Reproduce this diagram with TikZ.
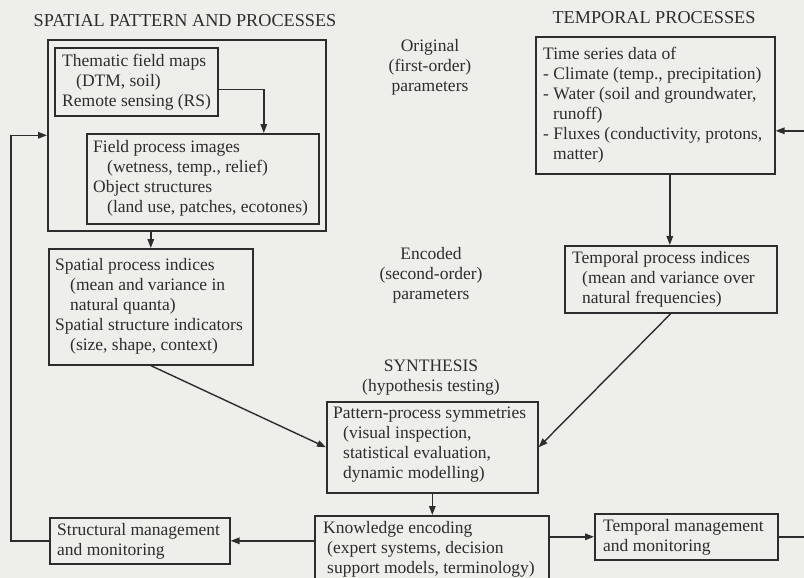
\documentclass[tikz,border=0pt]{standalone}
\usepackage{fontspec}
\setmainfont{Liberation Serif}
\usetikzlibrary{arrows.meta}
\definecolor{bg}{RGB}{238,238,235}
\definecolor{ink}{RGB}{45,45,45}
\begin{document}
\begin{tikzpicture}[x=1pt,y=-1pt,
  box/.style={draw=ink, line width=1.6pt, inner sep=0pt, anchor=north west},
  txt/.style={text=ink, inner sep=0pt, anchor=north west, align=left, font=\fontsize{17.5}{20}\selectfont},
  ctxt/.style={text=ink, inner sep=0pt, align=center, font=\fontsize{17.5}{20}\selectfont},
  ttl/.style={text=ink, inner sep=0pt, align=center, font=\fontsize{18.2}{20}\selectfont},
  arr/.style={draw=ink, line width=1.4pt, -{Triangle[length=9pt,width=6.5pt]}}]
\useasboundingbox (0,0) rectangle (804,578);
\clip (0,0) rectangle (804,578);
\fill[bg] (0,0) rectangle (804,578);

% titles and labels
\node[ttl] (tspat) at (185,21) {SPATIAL PATTERN AND PROCESSES};
\node[ttl] (ttemp) at (654,18) {TEMPORAL PROCESSES};
\node[ctxt] (torig) at (430,67) {Original\\(first-order)\\parameters};
\node[ctxt] (tenc) at (431,275) {Encoded\\(second-order)\\parameters};
\node[ctxt] (tsyn) at (431,378) {SYNTHESIS\\(hypothesis testing)};

% boxes
\node[box, minimum width=278pt, minimum height=191pt] (outer) at (47,39) {};
\node[box, minimum width=163pt, minimum height=68pt] (b1) at (54,47) {};
\node[box, minimum width=232pt, minimum height=90pt] (b2) at (86,133) {};
\node[box, minimum width=204pt, minimum height=116pt] (si) at (48,248) {};
\node[box, minimum width=239pt, minimum height=137pt] (tb) at (535,36) {};
\node[box, minimum width=212pt, minimum height=67pt] (ti) at (564,245) {};
\node[box, minimum width=211pt, minimum height=91pt] (pp) at (326,401) {};
\node[box, minimum width=234pt, minimum height=70pt] (ke) at (314,515) {};
\node[box, minimum width=180pt, minimum height=46pt] (sm) at (49,517) {};
\node[box, minimum width=183pt, minimum height=46pt] (tm) at (594,513) {};

% box texts
\node[txt] (x1) at (62,54) {Thematic field maps\\\hspace*{14pt}(DTM, soil)\\Remote sensing (RS)};
\node[txt] (x2) at (93,140) {Field process images\\\hspace*{14pt}(wetness, temp., relief)\\Object structures\\\hspace*{14pt}(land use, patches, ecotones)};
\node[txt] (x3) at (55,258) {Spatial process indices\\\hspace*{15pt}(mean and variance in\\\hspace*{15pt}natural quanta)\\Spatial structure indicators\\\hspace*{15pt}(size, shape, context)};
\node[txt] (x4) at (543,47) {Time series data of\\- Climate (temp., precipitation)\\- Water (soil and groundwater,\\\hspace*{10pt}runoff)\\- Fluxes (conductivity, protons,\\\hspace*{10pt}matter)};
\node[txt] (x5) at (572,251) {Temporal process indices\\\hspace*{10pt}(mean and variance over\\\hspace*{10pt}natural frequencies)};
\node[txt] (x6) at (333,407) {Pattern-process symmetries\\\hspace*{10pt}(visual inspection,\\\hspace*{10pt}statistical evaluation,\\\hspace*{10pt}dynamic modelling)};
\node[txt] (x7) at (323,521) {Knowledge encoding\\\hspace*{4pt}(expert systems, decision\\\hspace*{4pt}support models, terminology)};
\node[txt] (x8) at (57,523) {Structural management\\and monitoring};
\node[txt] (x9) at (603,519) {Temporal management\\and monitoring};

% connectors
\draw[arr] ([yshift=-8pt]b1.east) -| ([xshift=61pt]b2.north);
\draw[arr] ([xshift=-36pt]outer.south) -- ([xshift=-36pt]outer.south |- si.north);
\draw[arr] (sm.west) -- ++(-38,0) |- (outer.west);
\draw[arr] (ke.west |- sm.east) -- (sm.east);
\draw[arr] (ke.east |- tm.west) -- (tm.west);
\draw[arr] (pp.south) -- (pp.south |- ke.north);
\draw[arr] (tm.east) -- ++(40,0) |- ([yshift=-25.5pt]tb.east);
\draw[arr] ([xshift=14.5pt]tb.south) -- ([xshift=14.5pt]tb.south |- ti.north);
\draw[arr] (si.south) -- (pp.west);
\draw[arr] (ti.south) -- (pp.east);
\end{tikzpicture}
\end{document}
